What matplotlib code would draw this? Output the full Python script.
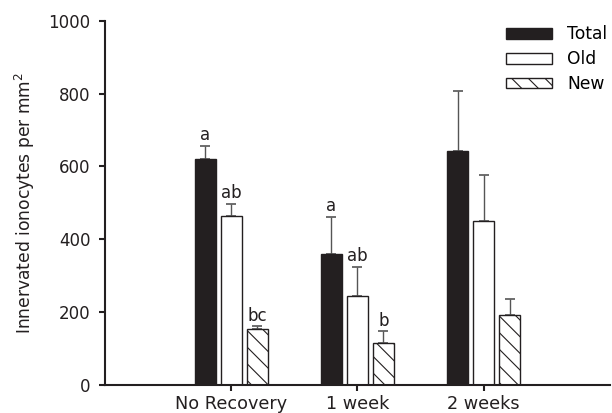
import numpy as np
import matplotlib.pyplot as plt

plt.rcParams['font.family'] = ['DejaVu Sans']
plt.rcParams['hatch.linewidth'] = 0.8

# Dane: liczba unerwionych jonocytów na mm2
groups = ["No Recovery", "1 week", "2 weeks"]
total = [620, 359, 641]
total_err = [37, 103, 167]
old = [465, 243, 450]
old_err = [32, 80, 127]
new = [153, 116, 191]
new_err = [8, 31, 45]

# Litery istotności statystycznej nad słupkami
total_letters = ["a", "a", ""]
old_letters = ["ab", "ab", ""]
new_letters = ["bc", "b", ""]

x = np.arange(len(groups))
w = 0.166
off = 0.206
dark = '#231f20'

fig = plt.figure(figsize=(6.12, 4.13), dpi=100)
ax = fig.add_axes([0.1716, 0.0678, 0.825, 0.8822])

series = [
    (x - off, total, total_err, total_letters, dict(color=dark, edgecolor=dark, label='Total')),
    (x, old, old_err, old_letters, dict(color='white', edgecolor=dark, linewidth=1.0, label='Old')),
    (x + off, new, new_err, new_letters, dict(color='white', edgecolor=dark, linewidth=1.0,
                                              hatch='\\\\', label='New')),
]

for xs, vals, errs, letters, style in series:
    ax.bar(xs, vals, w, zorder=2, **style)
    ax.errorbar(xs, vals, yerr=[np.zeros(len(errs)), errs], fmt='none',
                ecolor='#555555', elinewidth=1.0, capsize=3.5, capthick=1.2, zorder=1)
    for xi, v, e, t in zip(xs, vals, errs, letters):
        if t:
            ax.text(xi, v + e + 5, t, ha='center', va='bottom', fontsize=12, color=dark)

ax.set_xlim(-1, 3)
ax.set_ylim(0, 1000)
ax.set_yticks([0, 200, 400, 600, 800, 1000])
ax.set_xticks(x)
ax.set_xticklabels(groups)
ax.set_ylabel("Innervated ionocytes per mm$^2$", fontsize=12.3, color=dark, labelpad=8)

for s in ['top', 'right']:
    ax.spines[s].set_visible(False)
for s in ['left', 'bottom']:
    ax.spines[s].set_linewidth(1.5)
    ax.spines[s].set_color(dark)
ax.tick_params(direction='out', length=4.3, width=1.5, color=dark, labelcolor=dark)
ax.tick_params(axis='y', labelsize=12, pad=6)
ax.tick_params(axis='x', labelsize=12.7, pad=3)

ax.legend(loc='upper right', bbox_to_anchor=(1.018, 1.02), frameon=False, fontsize=12.3,
          handlelength=2.7, handleheight=0.6, handletextpad=0.85, labelspacing=0.4,
          borderaxespad=0.3)

fig.savefig('out.png', dpi=100)
